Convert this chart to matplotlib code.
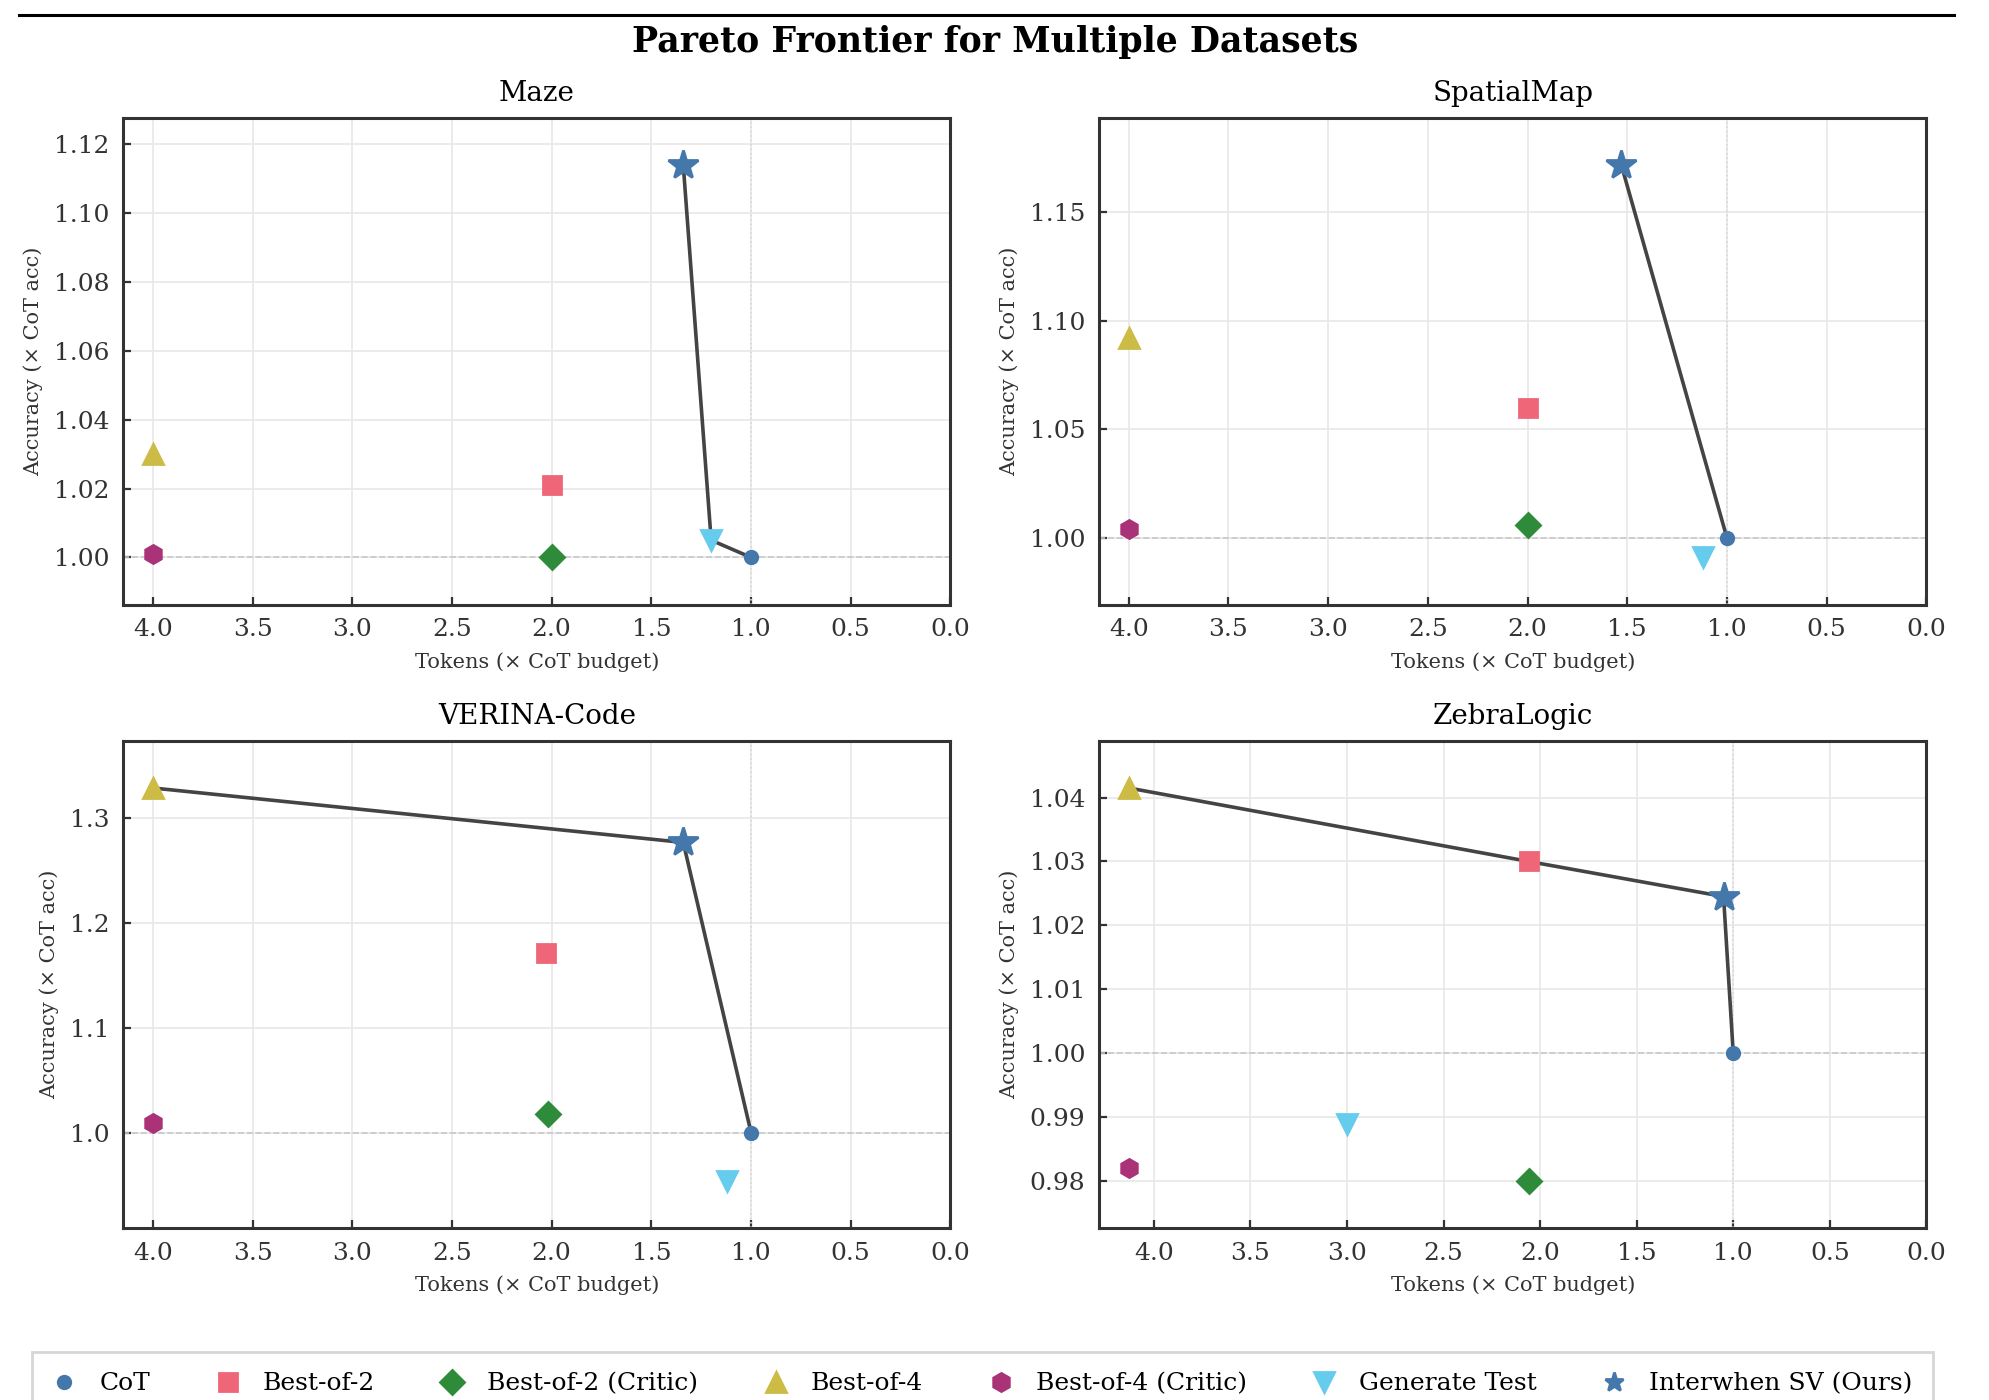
import numpy as np
import matplotlib.pyplot as plt
from matplotlib.lines import Line2D
from matplotlib.ticker import MultipleLocator

plt.rcParams['font.family'] = 'DejaVu Serif'

# methods shown in every panel (same order everywhere)
methods = ["CoT", "Best-of-2", "Best-of-2 (Critic)", "Best-of-4",
           "Best-of-4 (Critic)", "Generate Test", "Interwhen SV (Ours)"]
colors = ["#4477AA", "#EE6677", "#2E8B3A", "#CCBB44", "#AA3377", "#66CCEE", "#4477AA"]
markers = ["o", "s", "D", "^", "h", "v", "*"]
msizes = [4.5, 6.5, 6.3, 7, 6.5, 7, 11]

datasets = ["Maze", "SpatialMap", "VERINA-Code", "ZebraLogic"]
ytick_steps = [0.02, 0.05, 0.1, 0.01]

# tokens (x CoT budget) and accuracy (x CoT acc)
maze_tokens = [1.0, 2.0, 2.0, 4.0, 4.0, 1.2, 1.34]
maze_acc = [1.0, 1.021, 1.0, 1.030, 1.001, 1.005, 1.114]

spatial_tokens = [1.0, 2.0, 2.0, 4.0, 4.0, 1.12, 1.53]
spatial_acc = [1.0, 1.060, 1.006, 1.092, 1.004, 0.991, 1.172]

verina_tokens = [1.0, 2.03, 2.02, 4.0, 4.0, 1.12, 1.34]
verina_acc = [1.0, 1.171, 1.018, 1.329, 1.009, 0.954, 1.277]

zebra_tokens = [1.0, 2.06, 2.06, 4.13, 4.13, 3.0, 1.05]
zebra_acc = [1.0, 1.030, 0.980, 1.0415, 0.982, 0.9888, 1.0245]

all_tokens = [maze_tokens, spatial_tokens, verina_tokens, zebra_tokens]
all_acc = [maze_acc, spatial_acc, verina_acc, zebra_acc]


# pareto frontier: fewer tokens and higher accuracy wins
def pareto(tokens, acc):
    order = sorted(range(len(tokens)), key=lambda i: (tokens[i], -acc[i]))
    fx, fy = [], []
    best = -np.inf
    for i in order:
        if acc[i] > best:
            fx.append(tokens[i])
            fy.append(acc[i])
            best = acc[i]
    return fx, fy


fig, axes = plt.subplots(2, 2, figsize=(9.95, 7.0), dpi=200)
fig.subplots_adjust(left=0.062, right=0.968, top=0.916, bottom=0.123,
                    wspace=0.18, hspace=0.28)

fig.suptitle("Pareto Frontier for Multiple Datasets", fontsize=12.5,
             fontweight="bold", y=0.970, va="center")
# rule above the figure
fig.add_artist(Line2D([0.0095, 0.982], [0.989, 0.989], color="black", lw=1.1))

for ax, name, tok, acc, step in zip(axes.flat, datasets, all_tokens, all_acc, ytick_steps):
    ax.grid(True, color="#e8e8e8", lw=0.6)
    ax.set_axisbelow(True)
    ax.axhline(1.0, color="#c8c8c8", ls="--", lw=0.6, zorder=1)
    ax.axvline(1.0, color="#d8d8d8", ls=":", lw=0.6, zorder=1)

    fx, fy = pareto(tok, acc)
    ax.plot(fx, fy, color="#444444", lw=1.3, zorder=2)

    for k in range(len(methods)):
        ax.plot(tok[k], acc[k], marker=markers[k], ms=msizes[k], color=colors[k],
                ls="none", zorder=3, label=methods[k])

    pad = 0.12 * (max(acc) - min(acc))
    ax.set_ylim(min(acc) - pad, max(acc) + pad)
    ax.yaxis.set_major_locator(MultipleLocator(step))
    ax.set_xlim(max(tok) * 1.037, 0)
    ax.set_xticks(np.arange(0, 4.01, 0.5))

    ax.set_title(name, fontsize=10)
    ax.set_xlabel("Tokens (× CoT budget)", fontsize=7.5, color="#333333")
    ax.set_ylabel("Accuracy (× CoT acc)", fontsize=7.5, color="#333333")
    ax.tick_params(direction="in", length=3, width=0.8, labelsize=9,
                   colors="#333333", pad=5)
    for s in ax.spines.values():
        s.set_color("#333333")
        s.set_linewidth(1.1)

handles = []
for k in range(len(methods)):
    handles.append(Line2D([], [], marker=markers[k], color=colors[k], ls="none",
                          ms=min(msizes[k], 7) if k < 6 else 7))
fig.legend(handles, methods, loc="upper center", bbox_to_anchor=(0.4936, 0.043),
           ncol=7, fontsize=9, frameon=True, fancybox=False, edgecolor="#cccccc",
           handlelength=1.0, columnspacing=2.6, handletextpad=0.9, borderpad=0.8)

plt.savefig("out.png", dpi=200)
